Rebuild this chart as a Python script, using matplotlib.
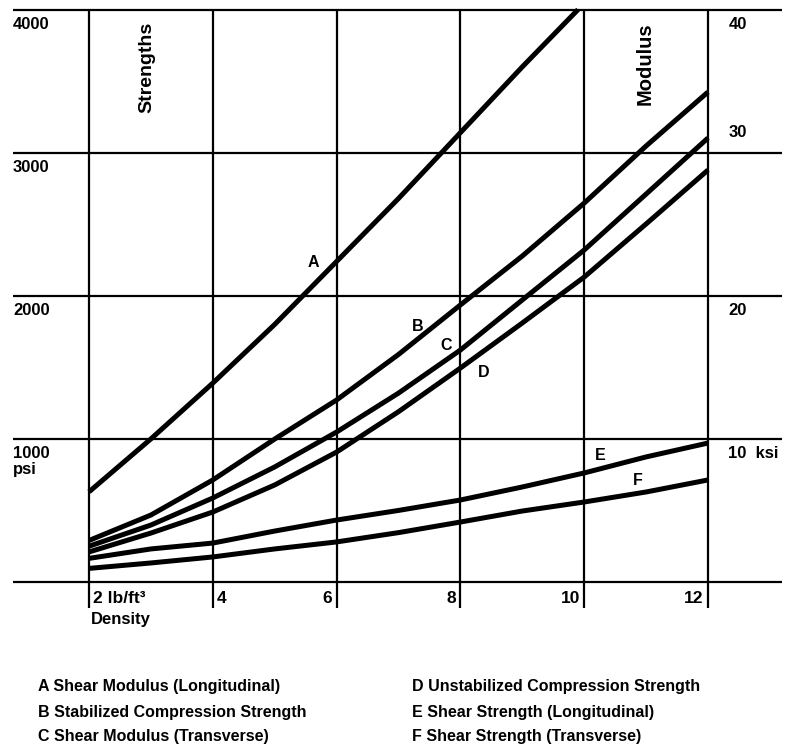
import matplotlib
matplotlib.use("Agg")
import matplotlib.pyplot as plt

# data (left scale: psi, right scale: ksi = psi / 100)
density = [2, 3, 4, 5, 6, 7, 8, 9, 10, 11, 12]
density_a = [2, 3, 4, 5, 6, 7, 8, 9, 9.9]
curve_a = [630, 1000, 1390, 1800, 2240, 2680, 3140, 3600, 4000]
curve_b = [290, 468, 713, 999, 1272, 1590, 1936, 2278, 2648, 3047, 3424]
curve_c = [250, 398, 587, 804, 1048, 1320, 1621, 1971, 2320, 2711, 3103]
curve_d = [210, 342, 489, 678, 908, 1190, 1495, 1810, 2131, 2502, 2879]
curve_e = [165, 231, 272, 356, 433, 500, 573, 664, 762, 874, 971]
curve_f = [95, 133, 175, 231, 280, 345, 419, 496, 559, 629, 713]

x_ticks = [2, 4, 6, 8, 10, 12]
x_labels = ["2 lb/ft\u00b3", "4", "6", "8", "10", "12"]
psi_ticks = [0, 1000, 2000, 3000, 4000]
left_labels = ["1000\npsi", "2000", "3000", "4000"]
right_labels = ["10  ksi", "20", "30", "40"]

legend = [
    "A Shear Modulus (Longitudinal)",
    "B Stabilized Compression Strength",
    "C Shear Modulus (Transverse)",
    "D Unstabilized Compression Strength",
    "E Shear Strength (Longitudinal)",
    "F Shear Strength (Transverse)",
]

plt.rcParams['font.family'] = ['Liberation Sans', 'DejaVu Sans']
plt.rcParams['font.weight'] = 'bold'

fig = plt.figure(figsize=(7.86, 7.53), dpi=100)
ax = fig.add_axes([0, 0, 1, 1])
ax.set_xlim(0.562, 13.26)
ax.set_ylim(-1195, 4067)
ax.axis("off")

# grid
ax.hlines(psi_ticks, 0.77, 13.2, color="black", lw=1.6)
ax.vlines(x_ticks, -182, 4000, color="black", lw=1.6)

# curves
lw = 3.6
ax.plot(density_a, curve_a, color="black", lw=lw, solid_capstyle="butt")
for ys in [curve_b, curve_c, curve_d, curve_e, curve_f]:
    ax.plot(density, ys, color="black", lw=lw, solid_capstyle="butt")

# curve letters
for s, x, y in [("A", 5.63, 2236), ("B", 7.31, 1782), ("C", 7.77, 1656),
                ("D", 8.37, 1467), ("E", 10.26, 887), ("F", 10.87, 706)]:
    ax.text(x, y, s, fontsize=11.5, ha="center", va="center")

ax.text(2.94, 3595, "Strengths", rotation=90, fontsize=14, ha="center", va="center")
ax.text(10.98, 3623, "Modulus", rotation=90, fontsize=14.5, ha="center", va="center")

# left scale
for v, s in zip(psi_ticks[1:], left_labels):
    ax.text(0.77, v - 50, s, fontsize=12, ha="left", va="top", linespacing=1.05)

# right scale
for v, s in zip(psi_ticks[1:], right_labels):
    off = 90 if s == "30" else -50
    ax.text(12.33, v + off, s, fontsize=12, ha="left",
            va="bottom" if s == "30" else "top")

# density ticks
for x, s in zip(x_ticks, x_labels):
    if x <= 4:
        ax.text(x + 0.07, -60, s, fontsize=12.5, ha="left", va="top")
    else:
        ax.text(x - 0.07, -60, s, fontsize=12.5, ha="right", va="top")
ax.text(2.03, -210, "Density", fontsize=12, ha="left", va="top")

# legend
rows = [687, 712, 737]
for i, s in enumerate(legend):
    col = 38 if i < 3 else 412
    fig.text(col / 786, 1 - rows[i % 3] / 753, s, fontsize=11.5, ha="left", va="center")

fig.savefig("out.png", dpi=100)
